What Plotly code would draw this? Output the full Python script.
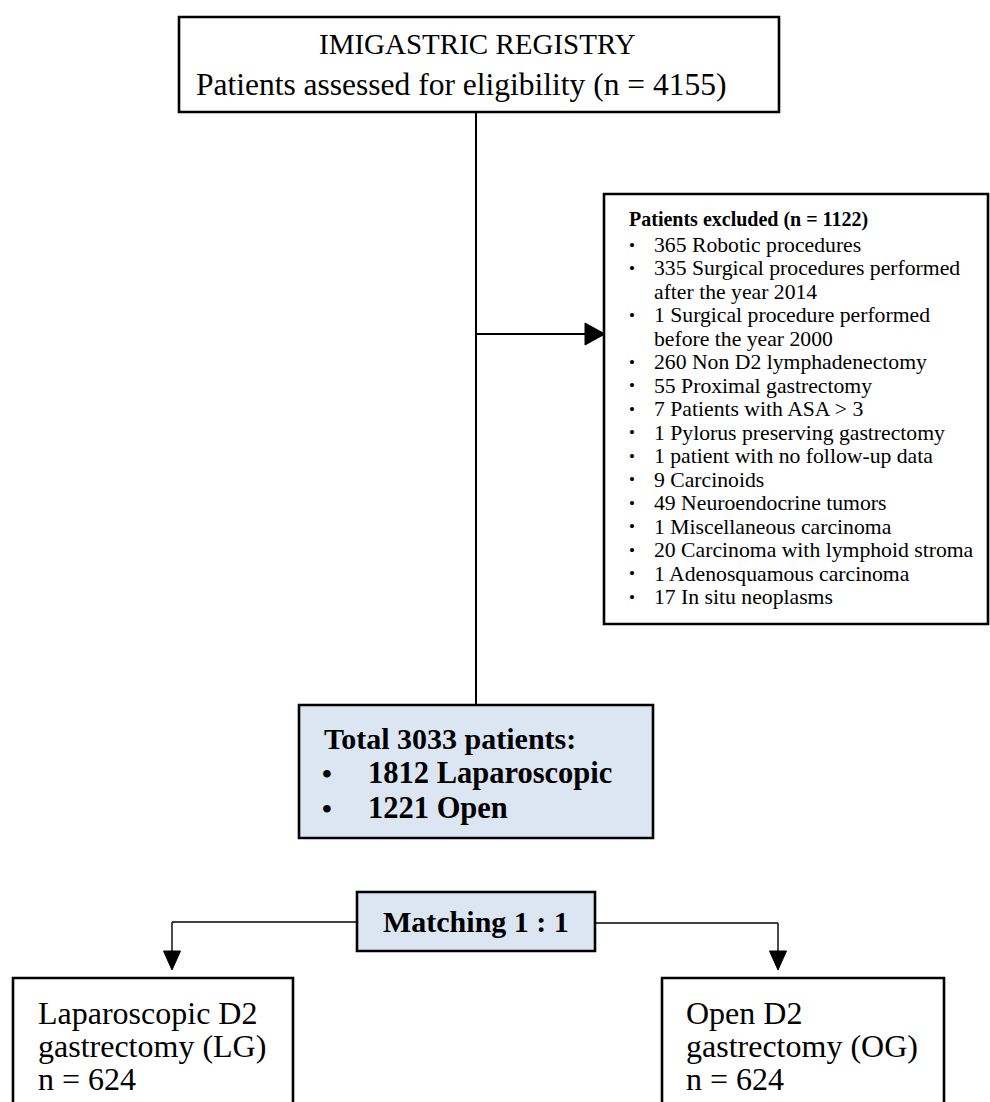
import plotly.graph_objects as go

# ---- content (text of the flow diagram) ----
registry_title = "IMIGASTRIC REGISTRY"
registry_sub = "Patients assessed for eligibility (n = 4155)"
excluded_header = "Patients excluded (n = 1122)"
excluded_items = [
    ["365 Robotic procedures"],
    ["335 Surgical procedures performed", "after the year 2014"],
    ["1 Surgical procedure performed", "before the year 2000"],
    ["260 Non D2 lymphadenectomy"],
    ["55 Proximal gastrectomy"],
    ["7 Patients with ASA > 3"],
    ["1 Pylorus preserving gastrectomy"],
    ["1 patient with no follow-up data"],
    ["9 Carcinoids"],
    ["49 Neuroendocrine tumors"],
    ["1 Miscellaneous carcinoma"],
    ["20 Carcinoma with lymphoid stroma"],
    ["1 Adenosquamous carcinoma"],
    ["17 In situ neoplasms"],
]
total_title = "Total 3033 patients:"
total_items = ["1812 Laparoscopic", "1221 Open"]
matching_label = "Matching 1 : 1"
arm_left = ["Laparoscopic D2", "gastrectomy (LG)", "n = 624"]
arm_right = ["Open D2", "gastrectomy (OG)", "n = 624"]

FONT = "Liberation Serif"
BLUE = "#dce6f2"
W, H = 990, 1102

fig = go.Figure()
shapes = []
ann = []

def box(x0, y0, x1, y1, fill="white", lw=2.6):
    shapes.append(dict(type="rect", xref="x", yref="y", x0=x0, y0=y0, x1=x1, y1=y1,
                       line=dict(color="black", width=lw), fillcolor=fill, layer="below"))

def line(x0, y0, x1, y1, lw=2.0):
    shapes.append(dict(type="line", xref="x", yref="y", x0=x0, y0=y0, x1=x1, y1=y1,
                       line=dict(color="black", width=lw)))

def tri(path):
    shapes.append(dict(type="path", xref="x", yref="y", path=path,
                       fillcolor="black", line=dict(color="black", width=1)))

def text(x, y, s, size, anchor="left", bold=False):
    ann.append(dict(x=x, y=y, xref="x", yref="y", text=f"<b>{s}</b>" if bold else s,
                    showarrow=False, xanchor=anchor, yanchor="middle",
                    font=dict(family=FONT, size=size, color="black")))

# top box
box(179, 17, 779, 112)
text(477, 44, registry_title, 29, anchor="center")
text(461, 84, registry_sub, 31.5, anchor="center")

# main vertical connector
line(476, 112, 476, 706, lw=2.0)

# exclusion arrow
line(476, 334, 588, 334, lw=2.0)
tri("M 585 323 L 605 334 L 585 345 Z")

# exclusion box
box(604, 194, 988, 624)
text(627, 219, excluded_header, 20, bold=True)
y = 245
step = 23.47
for item in excluded_items:
    text(632, y, "•", 17, anchor="center")
    for ln in item:
        text(652, y, ln, 21.7)
        y += step

# total box
box(299, 705, 653, 838, fill=BLUE)
text(322, 738, total_title, 30, bold=True)
for i, s in enumerate(total_items):
    yy = 773 + i * 35
    text(327, yy, "•", 28, anchor="center", bold=True)
    text(366, yy, s, 30.5, bold=True)

# matching box and connectors
box(357, 892, 595, 951, fill=BLUE)
text(476, 921, matching_label, 30, anchor="center", bold=True)
line(357, 922, 172, 922, lw=1.4)
line(172, 922, 172, 953, lw=1.4)
tri("M 163.5 951 L 180.5 951 L 172 970 Z")
line(595, 923, 778, 923, lw=1.4)
line(778, 923, 778, 953, lw=1.4)
tri("M 769.5 951 L 786.5 951 L 778 970 Z")

# arm boxes
box(13, 978, 293, 1120)
box(662, 978, 944, 1120)
for i, s in enumerate(arm_left):
    text(36, 1013 + i * 33, s, 32)
for i, s in enumerate(arm_right):
    text(684, 1013 + i * 33, s, 32)

fig.update_layout(
    width=W, height=H, margin=dict(l=0, r=0, t=0, b=0),
    paper_bgcolor="white", plot_bgcolor="white",
    xaxis=dict(range=[0, W], visible=False, fixedrange=True),
    yaxis=dict(range=[H, 0], visible=False, fixedrange=True),
    shapes=shapes, annotations=ann, showlegend=False,
)
fig.write_html(
    "out.html",
    config={"displayModeBar": False},
    post_script="document.body.style.margin='0';document.body.style.overflow='hidden';",
)
